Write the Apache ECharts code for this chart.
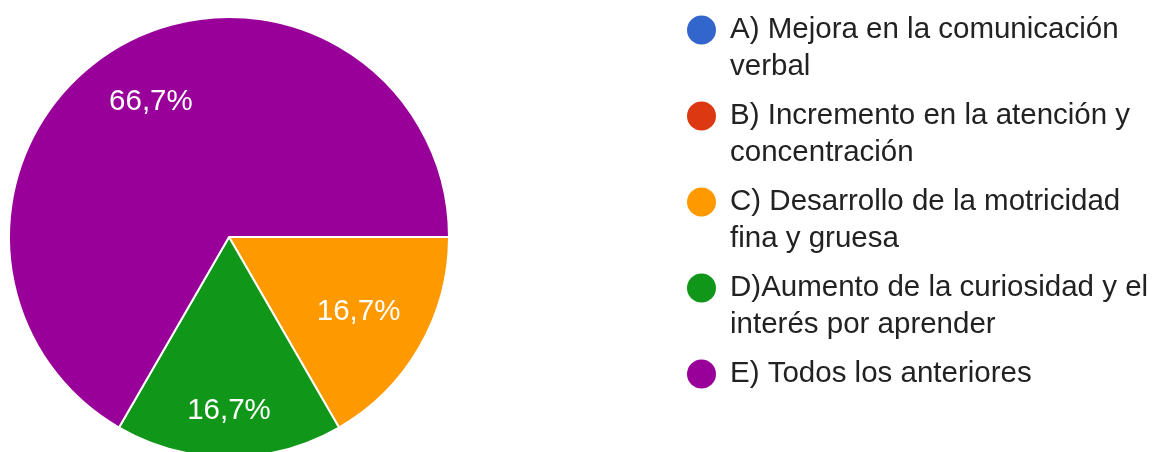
<!DOCTYPE html>
<html>
<head>
<meta charset="utf-8">
<script src="https://cdn.jsdelivr.net/npm/echarts@6/dist/echarts.min.js"></script>
<style>
  html, body { margin: 0; padding: 0; background: #fff; }
  #chart { width: 1153px; height: 452px; }
</style>
</head>
<body>
<div id="chart"></div>
<script>
  // respuestas (los textos largos van partidos en dos líneas como en el original)
  var categories = [
    'A) Mejora en la comunicación\nverbal',
    'B) Incremento en la atención y\nconcentración',
    'C) Desarrollo de la motricidad\nfina y gruesa',
    'D)Aumento de la curiosidad y el\ninterés por aprender',
    'E) Todos los anteriores'
  ];
  var counts = [0, 0, 1, 1, 4];
  var colors = ['#3366cc', '#dc3912', '#ff9900', '#109618', '#990099'];

  // distancia de cada etiqueta al centro, en fracción del radio
  var labelRadius = [0.7, 0.7, 0.68, 0.79, 0.71];
  var pieCenter = [229, 237];
  var pieRadius = 220;
  var font = "'Liberation Sans', Arial, sans-serif";

  var chart = echarts.init(document.getElementById('chart'));

  chart.setOption({
    backgroundColor: '#fff',
    animation: false,
    color: colors,
    legend: {
      orient: 'vertical',
      left: 687,
      top: -25.5,
      padding: 0,
      itemGap: -25,
      itemWidth: 29,
      itemHeight: 29,
      icon: 'circle',
      selectedMode: false,
      itemStyle: { borderWidth: 0 },
      // línea vacía delante para que la primera línea quede a la altura del círculo
      formatter: function (name) {
        return '\n' + (name.indexOf('\n') >= 0 ? name : name + '\n ');
      },
      textStyle: {
        fontFamily: font,
        fontSize: 29.5,
        lineHeight: 37,
        color: '#222',
        padding: [0, 0, 0, 9]
      },
      data: categories
    },
    series: [{
      type: 'pie',
      center: pieCenter,
      radius: pieRadius,
      startAngle: 0,
      clockwise: true,
      minShowLabelAngle: 1,
      emphasis: { disabled: true },
      itemStyle: { borderColor: '#fff', borderWidth: 2 },
      label: {
        show: true,
        position: 'inside',
        fontFamily: font,
        fontSize: 29.5,
        color: '#fff',
        formatter: function (p) {
          return p.percent.toFixed(1).replace('.', ',') + '%';
        }
      },
      labelLine: { show: false },
      labelLayout: function (p) {
        var r = p.labelRect;
        var cx = r.x + r.width / 2, cy = r.y + r.height / 2;
        var vx = cx - pieCenter[0], vy = cy - pieCenter[1];
        var len = Math.sqrt(vx * vx + vy * vy) || 1;
        var d = labelRadius[p.dataIndex] * pieRadius;
        return {
          dx: pieCenter[0] + vx / len * d - cx,
          dy: pieCenter[1] + vy / len * d - cy
        };
      },
      data: categories.map(function (name, i) {
        return { name: name, value: counts[i] };
      })
    }]
  });
</script>
</body>
</html>
